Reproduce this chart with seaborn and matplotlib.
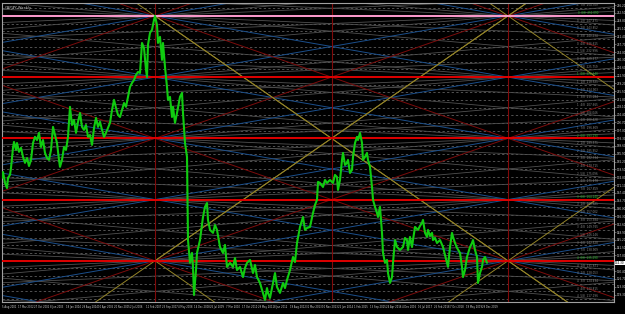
import numpy as np
import pandas as pd
import matplotlib
matplotlib.use("Agg")
import matplotlib.pyplot as plt
import matplotlib.transforms as mtransforms
import seaborn as sns

# weekly bar number (0 = first bar on screen) and close
bars = [0, 2, 6, 10, 12, 16, 18, 22, 24, 28, 30, 34, 38, 42, 46, 50, 54, 58, 62, 66,
        70, 74, 78, 82, 86, 90, 94, 98, 102, 106, 110, 114, 116, 120, 124, 128, 132, 136, 140, 144,
        148, 152, 156, 160, 164, 168, 172, 176, 180, 184, 188, 192, 196, 200, 204, 208, 212, 216, 220, 224,
        228, 232, 236, 240, 244, 248, 252, 256, 260, 264, 268, 272, 276, 280, 284, 288, 290, 292, 296, 300,
        304, 306, 310, 312, 316, 320, 322, 326, 330, 332, 336, 340, 342, 346, 350, 356, 360, 362, 366, 370,
        371, 372, 376, 380, 382, 384, 388, 390, 396, 402, 406, 410, 412, 416, 422, 426, 430, 436, 442, 446,
        450, 456, 462, 466, 470, 476, 482, 486, 490, 496, 502, 506, 510, 516, 522, 526, 530, 532, 536, 542,
        546, 550, 556, 562, 566, 570, 576, 582, 586, 590, 596, 602, 606, 610, 616, 622, 626, 630, 632, 636,
        642, 646, 650, 656, 662, 666, 670, 672, 676, 680, 682, 686, 690, 692, 696, 700, 702, 706, 710, 712,
        716, 720, 722, 726, 730, 732, 736, 740, 742, 746, 750, 752, 756, 760, 762, 766, 770, 772, 776, 780,
        782, 786, 790, 796, 802, 806, 810, 812, 816, 820, 822, 826, 832, 836, 840, 842, 846, 850, 852, 856,
        860, 862, 866, 870, 876, 882, 886, 890, 892, 896, 900, 902, 906, 910, 916, 920, 922, 926, 930, 936,
        940, 942, 946, 950, 952, 956, 960, 962, 966, 970]
closes = [174.5, 177.3, 172.1, 169.7, 174.5, 175.9, 179.2, 188.7, 191.5, 187.7, 191.0, 186.8, 188.7, 184.4, 181.6, 183.9, 180.1, 183.0, 191.0, 193.9,
          192.4, 195.8, 189.1, 192.4, 186.3, 183.9, 183.0, 187.7, 198.6, 194.8, 191.0, 183.0, 179.7, 183.0, 189.1, 187.7, 193.9, 208.1, 199.5, 201.9,
          195.8, 201.0, 205.2, 198.6, 197.2, 199.5, 193.9, 194.8, 190.1, 198.1, 202.9, 198.6, 201.0, 197.2, 193.9, 195.8, 198.1, 200.5, 206.6, 211.4,
          207.6, 204.3, 203.3, 206.6, 209.9, 208.1, 212.8, 217.5, 219.4, 220.8, 223.2, 224.6, 224.1, 238.3, 236.0, 225.6, 222.2, 237.4, 243.1, 244.5,
          249.2, 251.1, 246.8, 238.3, 241.2, 230.3, 238.3, 227.0, 217.5, 211.4, 212.8, 203.3, 208.1, 200.5, 205.2, 212.8, 214.7, 205.2, 191.0, 184.4,
          164.1, 145.1, 134.3, 139.0, 132.4, 119.1, 130.9, 139.0, 145.1, 156.0, 160.8, 162.6, 154.6, 149.9, 148.5, 152.2, 149.9, 141.8, 139.0, 142.8,
          132.4, 134.3, 132.4, 136.6, 130.9, 132.4, 127.6, 131.9, 134.3, 135.7, 129.5, 133.3, 127.6, 124.8, 120.1, 116.8, 122.4, 120.1, 117.7, 124.8,
          129.5, 122.9, 120.1, 124.8, 122.4, 126.2, 130.9, 137.1, 134.7, 143.7, 151.3, 156.0, 149.9, 150.8, 151.3, 157.9, 161.7, 164.1, 172.6, 172.1,
          170.2, 173.5, 172.1, 173.5, 172.1, 175.9, 174.9, 168.8, 173.5, 183.0, 186.3, 180.6, 181.6, 183.0, 176.8, 178.3, 184.4, 191.0, 193.9, 192.4,
          195.8, 191.0, 183.0, 184.4, 186.3, 183.0, 179.7, 170.2, 164.1, 160.8, 157.9, 156.0, 160.8, 148.5, 139.0, 134.3, 135.7, 129.5, 124.8, 127.6,
          134.3, 145.1, 141.8, 140.4, 141.8, 146.1, 145.1, 140.4, 146.6, 141.8, 145.1, 151.3, 149.9, 151.8, 153.2, 154.6, 148.5, 146.6, 149.9, 147.0,
          148.5, 145.1, 146.1, 143.7, 145.1, 141.8, 138.1, 134.3, 132.4, 141.8, 148.5, 146.6, 143.7, 141.4, 139.0, 132.4, 127.6, 130.9, 137.1, 141.8,
          143.7, 145.1, 140.4, 137.1, 124.8, 129.5, 132.4, 135.7, 137.1, 134.3]

first_bar_date = "2001-08-05"
symbol_title = "GBPJPY,Weekly"
last_price = 134.30

# Gann grid settings
top_level = 251.09      # 0/8 line on the 2007 high
level_step = 28.95      # distance between red levels
red_levels = [1, 2, 3, 4]
pivot_bars = [306, 659, 1012]
period = 353            # bars between pivots

x_max = 1224
y_min, y_max = 115.8, 257.2

df = pd.DataFrame({"bar": bars, "close": closes})


def lv2price(lv):
    return top_level - level_step * lv


def t2bar(t):
    return pivot_bars[0] + t * period


t_lo = (0 - pivot_bars[0]) / period
t_hi = (x_max - pivot_bars[0]) / period

sns.set_style("dark")
plt.rcParams["font.family"] = ["DejaVu Sans"]

fig = plt.figure(figsize=(6.25, 3.14), dpi=100, facecolor="black")
ax = fig.add_axes([2 / 625, 12 / 314, 612 / 625, 299 / 314])
ax.set_facecolor("black")


def gann(t0, lv0, rate, ta, tb, **kw):
    ts = np.array([ta, tb])
    ax.plot(t2bar(ts), lv2price(lv0 + rate * (ts - t0)), **kw)


# dashed 1/8 lines
for j in range(-2, 40):
    if j % 8 == 0:
        continue
    ax.axhline(lv2price(j / 8), color="#666666", lw=0.55, ls=(0, (3, 3)), zorder=1)

# faint gray fan lines (1x4, 1x8)
for rate in [0.25, 0.125]:
    for k in range(-2, 8):
        for t0 in [0, 2]:
            for s in [1, -1]:
                gann(t0, k, s * rate, t_lo, t_hi, color="#505050", lw=0.6, zorder=1)

# blue 1x2 fan lines
for c in range(-3, 9):
    for s in [1, -1]:
        gann(0, c, s * 0.5, t_lo, t_hi, color="#1b4f8c", lw=0.7, zorder=2)

# red 1x1 fan lines
for c in range(-4, 10, 2):
    for s in [1, -1]:
        gann(0, c, s * 1.0, t_lo, t_hi, color="#7c0c0c", lw=0.7, zorder=2)

# yellow 2x1 lines
yellow_rays = [(0, 0, 2), (0, 4, -2), (0, 4, 2)]
yellow_full = [(2, 0, 2), (2, 0, -2), (2, 4, 2), (2, 4, -2)]
for t0, lv0, r in yellow_rays:
    gann(t0, lv0, r, t0, t_hi, color="#948428", lw=0.7, zorder=2)
for t0, lv0, r in yellow_full:
    gann(t0, lv0, r, t_lo, t_hi, color="#948428", lw=0.7, zorder=2)

# pivot verticals
for b in pivot_bars:
    ax.axvline(b, color="#800a0a", lw=0.8, zorder=2)

# main levels
ax.axhline(lv2price(0), color="#ff9ccf", lw=1.4, zorder=3)
for lv in red_levels:
    ax.axhline(lv2price(lv), color="#e00000", lw=1.4, zorder=3)

# level labels at right edge
for j in range(-1, 38):
    p = lv2price(j / 8)
    if p < y_min + 1 or p > y_max - 1:
        continue
    col = "#30c030" if j % 8 == 0 else "#8a8a8a"
    ax.text(1192, p + 0.4, f"{j // 8}  {j % 8}/8  {p:.3f}", color=col, fontsize=2.0,
            ha="right", va="bottom", zorder=4)

# price
sns.lineplot(data=df, x="bar", y="close", color="#10cc10", lw=1.5, ax=ax, zorder=5)

ax.set_xlim(0, x_max)
ax.set_ylim(y_min, y_max)
ax.set_xlabel("")
ax.set_ylabel("")
ax.grid(False)

# right price scale (the label under the current price box is left out, as MT4 does)
ax.yaxis.tick_right()
yt = np.arange(y_max - 1.0, y_min, -3.7)
yt = yt[np.abs(yt - last_price) > 2.2]
ax.set_yticks(yt)
ax.set_yticklabels([f"{v:.2f}" for v in yt], fontsize=2.0, color="#d0d0d0")

# bottom date scale
start = pd.Timestamp(first_bar_date)
xt = list(range(0, 980, 32))
ax.set_xticks(xt)
ax.set_xticklabels([f"{(start + pd.Timedelta(weeks=b)).day} {(start + pd.Timedelta(weeks=b)):%b %Y}"
                    for b in xt], fontsize=1.85, color="#d0d0d0", ha="left")
ax.tick_params(axis="both", length=1.2, width=0.4, color="#a0a0a0", pad=0.8)

for sp in ax.spines.values():
    sp.set_color("#a0a0a0")
    sp.set_linewidth(0.8)

# current price box
trans = mtransforms.blended_transform_factory(ax.transAxes, ax.transData)
ax.text(1.002, last_price, f"{last_price:.2f}", transform=trans, fontsize=2.0, color="black",
        va="center", ha="left", bbox=dict(boxstyle="square,pad=0.1", fc="white", ec="none"), zorder=6)

fig.text(0.008, 0.982, symbol_title, color="#c8c8c8", fontsize=2.6, va="top")

fig.savefig("out.png", dpi=100, facecolor="black")
